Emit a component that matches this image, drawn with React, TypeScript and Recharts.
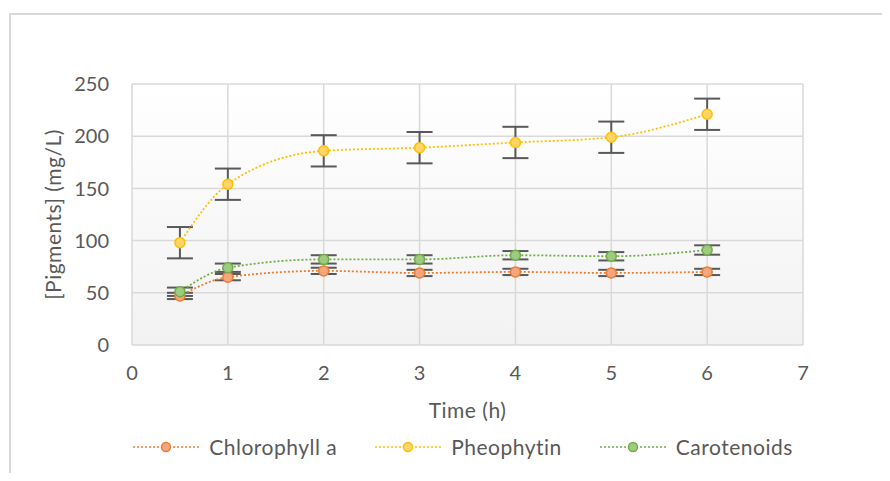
import React from 'react';
import {
  LineChart, Line, XAxis, YAxis, CartesianGrid, ErrorBar, Legend, Label,
} from 'recharts';

const times = [0.5, 1, 2, 3, 4, 5, 6];
const chlorophyllA = [47, 65, 71, 69, 70, 69, 70];
const chlorophyllErr = [3, 3, 3, 3, 3, 3, 3];
const pheophytin = [98, 154, 186, 189, 194, 199, 221];
const pheophytinErr = [15, 15, 15, 15, 15, 15, 15];
const carotenoids = [51, 74, 82, 82, 86, 85, 91];
const carotenoidsErr = [4, 4, 4, 4, 4, 4, 4.5];
const xTicks = [0, 1, 2, 3, 4, 5, 6, 7];
const yTicks = [0, 50, 100, 150, 200, 250];

const series = [
  { key: 'chl', err: 'chlErr', name: 'Chlorophyll a', stroke: '#ED7D31', fill: '#F4A77E' },
  { key: 'pheo', err: 'pheoErr', name: 'Pheophytin', stroke: '#FFC000', fill: '#FFD56A' },
  { key: 'car', err: 'carErr', name: 'Carotenoids', stroke: '#70AD47', fill: '#9DCB80' },
];

const data = times.map((t, i) => ({
  t,
  chl: chlorophyllA[i],
  chlErr: chlorophyllErr[i],
  pheo: pheophytin[i],
  pheoErr: pheophytinErr[i],
  car: carotenoids[i],
  carErr: carotenoidsErr[i],
}));

const FONT = 'Lato, "Open Sans", sans-serif';
const TXT = '#595959';

const LegendContent = () => (
  <div style={{ display: 'flex', justifyContent: 'center', alignItems: 'center', fontFamily: FONT, fontSize: 21, letterSpacing: 0.5, color: TXT, paddingLeft: 36 }}>
    {series.map((s, i) => (
      <div key={s.key} style={{ display: 'flex', alignItems: 'center', marginLeft: i === 0 ? 0 : 38 }}>
        <svg width={66} height={12} style={{ marginRight: 10 }}>
          <line x1={0} y1={6} x2={66} y2={6} stroke={s.stroke} strokeWidth={1.5} strokeDasharray="2 2" />
          <circle cx={33} cy={6} r={4.5} fill={s.fill} stroke={s.stroke} strokeWidth={1.5} />
        </svg>
        <span>{s.name}</span>
      </div>
    ))}
  </div>
);

const YLabel = (props: any) => {
  const vb = props.viewBox || {};
  const cy = vb.y + vb.height / 2;
  return (
    <text x={52} y={cy} transform={`rotate(-90 52 ${cy})`} textAnchor="middle" dominantBaseline="central"
      fill={TXT} fontSize={21} letterSpacing={0.5} fontFamily={FONT}>
      [Pigments] (mg/L)
    </text>
  );
};

export default function App() {
  return (
    <div style={{ position: 'relative', width: 890, height: 481, margin: -8, overflow: 'hidden', background: '#fff' }}>
      <div style={{ position: 'absolute', left: 9, top: 13, width: 900, height: 500, border: '2px solid #d9d9d9', boxSizing: 'border-box' }} />
      <div style={{ position: 'absolute', left: 0, top: 0 }}>
        <LineChart width={890} height={481} data={data} margin={{ top: 84, right: 87, bottom: 0, left: 0 }}>
          <defs>
            <linearGradient id="plotBg" x1="0" y1="0" x2="0" y2="1">
              <stop offset="0%" stopColor="#ffffff" />
              <stop offset="100%" stopColor="#f2f2f2" />
            </linearGradient>
          </defs>
          <CartesianGrid fill="url(#plotBg)" stroke="#d9d9d9" strokeWidth={1.5} />
          <XAxis type="number" dataKey="t" domain={[0, 7]} ticks={xTicks} interval={0} height={96}
            axisLine={false} tickLine={false} tickSize={0} tickMargin={21}
            tick={{ fill: TXT, fontSize: 20, fontFamily: FONT }}>
            <Label value="Time (h)" position="insideBottom" offset={23} fill={TXT} fontSize={21} letterSpacing={0.5} fontFamily={FONT} />
          </XAxis>
          <YAxis type="number" domain={[0, 250]} ticks={yTicks} interval={0} width={132}
            axisLine={false} tickLine={false} tickSize={0} tickMargin={23}
            tick={{ fill: TXT, fontSize: 20, fontFamily: FONT }}>
            <Label content={<YLabel />} />
          </YAxis>
          <Legend verticalAlign="bottom" height={40} content={<LegendContent />}
            wrapperStyle={{ top: 434, left: 0, width: 890 }} />
          {series.map((s) => (
            <Line key={s.key} dataKey={s.key} name={s.name} type="monotone" isAnimationActive={false}
              stroke={s.stroke} strokeWidth={1.8} strokeDasharray="2 2"
              dot={{ r: 5, fill: s.fill, stroke: s.stroke, strokeWidth: 1.5, strokeDasharray: '' }}
              activeDot={false}>
              <ErrorBar dataKey={s.err} width={13} stroke="#595959" strokeWidth={2} direction="y" />
            </Line>
          ))}
        </LineChart>
      </div>
    </div>
  );
}
